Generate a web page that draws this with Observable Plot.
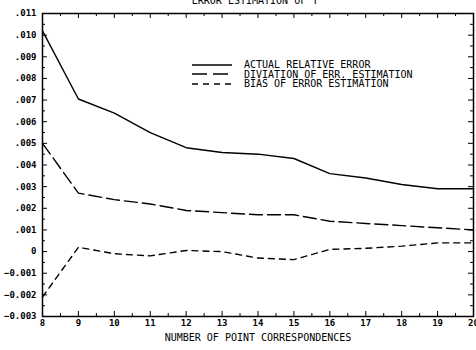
<!DOCTYPE html>
<html>
<head>
<meta charset="utf-8">
<script src="https://cdn.jsdelivr.net/npm/d3@7"></script>
<script src="https://cdn.jsdelivr.net/npm/@observablehq/plot@0.6"></script>
<style>
  body { margin: 0; background: #fff; }
  #chart { position: relative; width: 476px; height: 350px; overflow: hidden; font-family: "DejaVu Sans Mono", monospace; color: #000; }
  #title { position: absolute; top: -4px; left: 0; width: 510px; text-align: center; font-size: 10px; line-height: 10px; white-space: nowrap; }
  #legend { position: absolute; left: 192px; top: 60px; font-size: 10px; }
  #legend .row { display: flex; align-items: center; height: 9.6px; }
  #legend svg { margin-right: 12px; }
</style>
</head>
<body>
<div id="chart">
  <div id="title"></div>
  <div id="legend"></div>
</div>
<script>
// Number of point correspondences
const points = [8, 9, 10, 11, 12, 13, 14, 15, 16, 17, 18, 19, 20];
// Error series
const actualError = [0.0102, 0.00705, 0.0064, 0.0055, 0.0048, 0.00458, 0.0045, 0.0043, 0.0036, 0.0034, 0.0031, 0.0029, 0.0029];
const deviation   = [0.0050, 0.0027, 0.0024, 0.0022, 0.0019, 0.0018, 0.0017, 0.0017, 0.0014, 0.0013, 0.0012, 0.0011, 0.0010];
const bias        = [-0.0021, 0.0002, -0.0001, -0.0002, 0.00005, 0.0, -0.0003, -0.00037, 0.0001, 0.00015, 0.00025, 0.0004, 0.0004];
const seriesNames = ["ACTUAL RELATIVE ERROR", "DIVIATION OF ERR. ESTIMATION", "BIAS OF ERROR ESTIMATION"];
const dashes = [null, "13,5", "6,5"];
const xTicks = [8, 9, 10, 11, 12, 13, 14, 15, 16, 17, 18, 19, 20];
const yTicks = [-0.003, -0.002, -0.001, 0, 0.001, 0.002, 0.003, 0.004, 0.005, 0.006, 0.007, 0.008, 0.009, 0.010, 0.011];
const titleText = "ERROR ESTIMATION OF T";
const xLabel = "NUMBER OF POINT CORRESPONDENCES";

const seriesValues = [actualError, deviation, bias];
const rows = seriesValues.flatMap((vals, s) =>
  vals.map((v, i) => ({x: points[i], y: v, series: seriesNames[s]})));

// Half-step minor ticks
const xMinor = xTicks.slice(0, -1).map(d => d + 0.5);
const yMinor = yTicks.slice(0, -1).map(d => d + 0.0005);

const fmt = d => d === 0 ? "0" : d3.format(".3f")(d).replace(/^(-?)0\./, "$1.");

const W = 476, H = 350, mL = 42, mR = 3, mT = 13, mB = 34;
const fw = W - mL - mR, fh = H - mT - mB;

const marks = [
  Plot.axisX(xTicks, {anchor: "bottom", tickSize: 0, tickPadding: 3, tickFormat: d => String(d), label: null, fontSize: 9, fontWeight: "bold"}),
  Plot.axisY(yTicks, {anchor: "left", tickSize: 0, tickPadding: 6, tickFormat: fmt, label: null, fontSize: 9, fontWeight: "bold"}),
  Plot.text([xLabel], {frameAnchor: "bottom", dy: 24, text: d => d, fontSize: 10})
];
// Inward ticks on all four sides (major 5px, minor 3px)
for (const [vals, len] of [[xTicks, 5], [xMinor, 3]]) {
  marks.push(Plot.tickX(vals, {x: d => d, insetTop: fh - len, stroke: "black"}));
  marks.push(Plot.tickX(vals, {x: d => d, insetBottom: fh - len, stroke: "black"}));
}
for (const [vals, len] of [[yTicks, 5], [yMinor, 3]]) {
  marks.push(Plot.tickY(vals, {y: d => d, insetRight: fw - len, stroke: "black"}));
  marks.push(Plot.tickY(vals, {y: d => d, insetLeft: fw - len, stroke: "black"}));
}
seriesNames.forEach((name, s) => {
  marks.push(Plot.line(rows.filter(r => r.series === name), {
    x: "x", y: "y", stroke: "black", strokeWidth: 1.4,
    strokeDasharray: dashes[s]
  }));
});
marks.push(Plot.frame({stroke: "black", strokeWidth: 1.5}));

const chart = Plot.plot({
  width: W,
  height: H,
  marginLeft: mL,
  marginRight: mR,
  marginTop: mT,
  marginBottom: mB,
  x: {domain: [8, 20]},
  y: {domain: [-0.003, 0.011]},
  style: {fontFamily: "DejaVu Sans Mono, monospace", fontSize: "9px", color: "black", background: "white", overflow: "visible"},
  marks
});
document.getElementById("chart").prepend(chart);
document.getElementById("title").textContent = titleText;

// Legend
const legend = d3.select("#legend");
seriesNames.forEach((name, s) => {
  const row = legend.append("div").attr("class", "row");
  const svg = row.append("svg").attr("width", 40).attr("height", 6);
  svg.append("line").attr("x1", 0).attr("x2", 40).attr("y1", 3).attr("y2", 3)
    .attr("stroke", "black").attr("stroke-width", 1.4)
    .attr("stroke-dasharray", s === 1 ? "15,6" : dashes[s]);
  row.append("span").text(name);
});
</script>
</body>
</html>
